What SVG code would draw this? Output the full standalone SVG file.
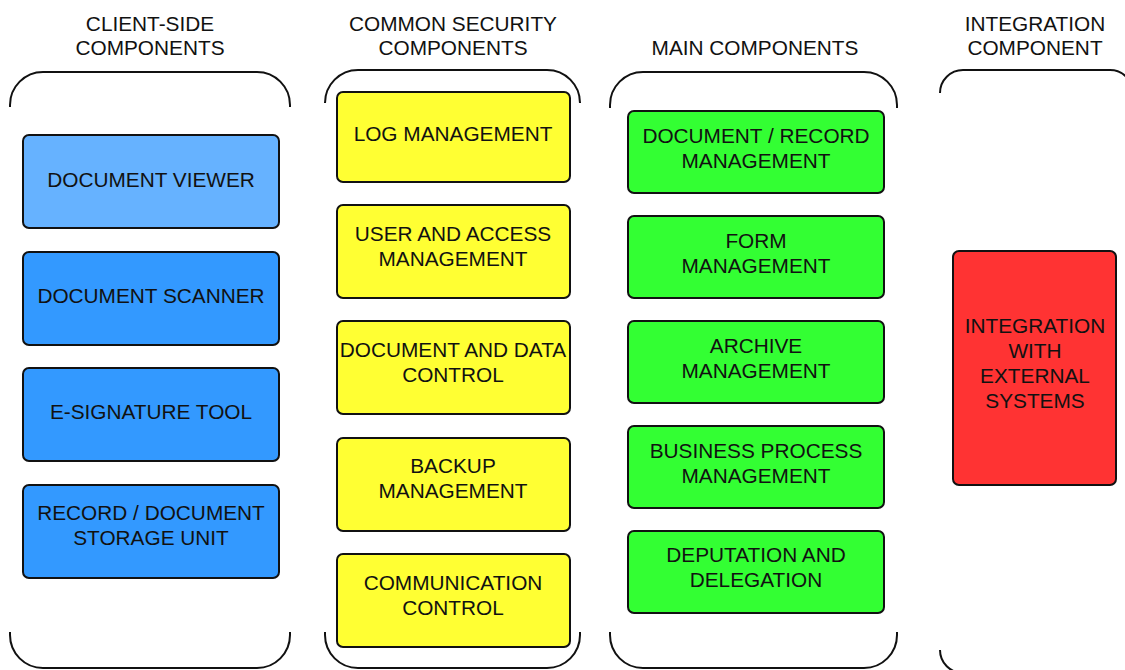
<svg xmlns="http://www.w3.org/2000/svg" width="1125" height="670" viewBox="0 0 1125 670">
<style>
text{font-family:"Liberation Sans",Arial,sans-serif;font-size:20.8px;fill:#111;text-anchor:middle;dominant-baseline:central}
.br{fill:none;stroke:#111;stroke-width:2}
.box{stroke:#111;stroke-width:2}
.lb{fill:#66B2FF}.bl{fill:#3399FF}.ye{fill:#FFFF33}.gr{fill:#33FF33}.rd{fill:#FF3333}
</style>
<rect width="1125" height="670" fill="#fff"/>
<g id="headers">
<text x="150" y="23">CLIENT-SIDE</text><text x="150" y="47">COMPONENTS</text>
<text x="453" y="23">COMMON SECURITY</text><text x="453" y="47">COMPONENTS</text>
<text x="755" y="47">MAIN COMPONENTS</text>
<text x="1035" y="23">INTEGRATION</text><text x="1035" y="47">COMPONENT</text>
</g>
<g id="brackets">
<path class="br" d="M10,107 V105 A33,33 0 0 1 43,72 H257 A33,33 0 0 1 290,105 V107"/>
<path class="br" d="M10,632 V635 A33,33 0 0 0 43,668 H257 A33,33 0 0 0 290,635 V632"/>
<path class="br" d="M325,102 V103 A33,33 0 0 1 358,70 H547 A33,33 0 0 1 580,103 V102"/>
<path class="br" d="M325,632 V635 A33,33 0 0 0 358,668 H547 A33,33 0 0 0 580,635 V632"/>
<path class="br" d="M610,108 V105 A33,33 0 0 1 643,72 H864 A33,33 0 0 1 897,105 V108"/>
<path class="br" d="M610,632 V635 A33,33 0 0 0 643,668 H864 A33,33 0 0 0 897,635 V632"/>
<path class="br" d="M940,93 A23,23 0 0 1 963,70 H1110 A23,23 0 0 1 1133,93"/>
<path class="br" d="M940,650 A23,23 0 0 0 963,673 H1110"/>
</g>
<g id="n1"><rect class="box lb" x="23" y="135" width="256" height="93" rx="6"/><text x="151" y="179">DOCUMENT VIEWER</text></g>
<g id="n2"><rect class="box bl" x="23" y="252" width="256" height="93" rx="6"/><text x="151" y="295">DOCUMENT SCANNER</text></g>
<g id="n3"><rect class="box bl" x="23" y="368" width="256" height="93" rx="6"/><text x="151" y="411">E-SIGNATURE TOOL</text></g>
<g id="n4"><rect class="box bl" x="23" y="485" width="256" height="93" rx="6"/><text x="151" y="512">RECORD / DOCUMENT</text><text x="151" y="537">STORAGE UNIT</text></g>
<g id="n5"><rect class="box ye" x="337" y="92" width="233" height="90" rx="6"/><text x="453" y="133">LOG MANAGEMENT</text></g>
<g id="n6"><rect class="box ye" x="337" y="205" width="233" height="93" rx="6"/><text x="453" y="233">USER AND ACCESS</text><text x="453" y="258">MANAGEMENT</text></g>
<g id="n7"><rect class="box ye" x="337" y="321" width="233" height="93" rx="6"/><text x="453" y="349">DOCUMENT AND DATA</text><text x="453" y="374">CONTROL</text></g>
<g id="n8"><rect class="box ye" x="337" y="438" width="233" height="93" rx="6"/><text x="453" y="465">BACKUP</text><text x="453" y="490">MANAGEMENT</text></g>
<g id="n9"><rect class="box ye" x="337" y="554" width="233" height="93" rx="6"/><text x="453" y="582">COMMUNICATION</text><text x="453" y="607">CONTROL</text></g>
<g id="n10"><rect class="box gr" x="628" y="111" width="256" height="82" rx="6"/><text x="756" y="135">DOCUMENT / RECORD</text><text x="756" y="160">MANAGEMENT</text></g>
<g id="n11"><rect class="box gr" x="628" y="216" width="256" height="82" rx="6"/><text x="756" y="240">FORM</text><text x="756" y="265">MANAGEMENT</text></g>
<g id="n12"><rect class="box gr" x="628" y="321" width="256" height="82" rx="6"/><text x="756" y="345">ARCHIVE</text><text x="756" y="370">MANAGEMENT</text></g>
<g id="n13"><rect class="box gr" x="628" y="426" width="256" height="82" rx="6"/><text x="756" y="450">BUSINESS PROCESS</text><text x="756" y="475">MANAGEMENT</text></g>
<g id="n14"><rect class="box gr" x="628" y="531" width="256" height="82" rx="6"/><text x="756" y="554">DEPUTATION AND</text><text x="756" y="579">DELEGATION</text></g>
<g id="n15"><rect class="box rd" x="953" y="251" width="163" height="234" rx="6"/><text x="1035" y="325">INTEGRATION</text><text x="1035" y="350">WITH</text><text x="1035" y="375">EXTERNAL</text><text x="1035" y="400">SYSTEMS</text></g>
</svg>
